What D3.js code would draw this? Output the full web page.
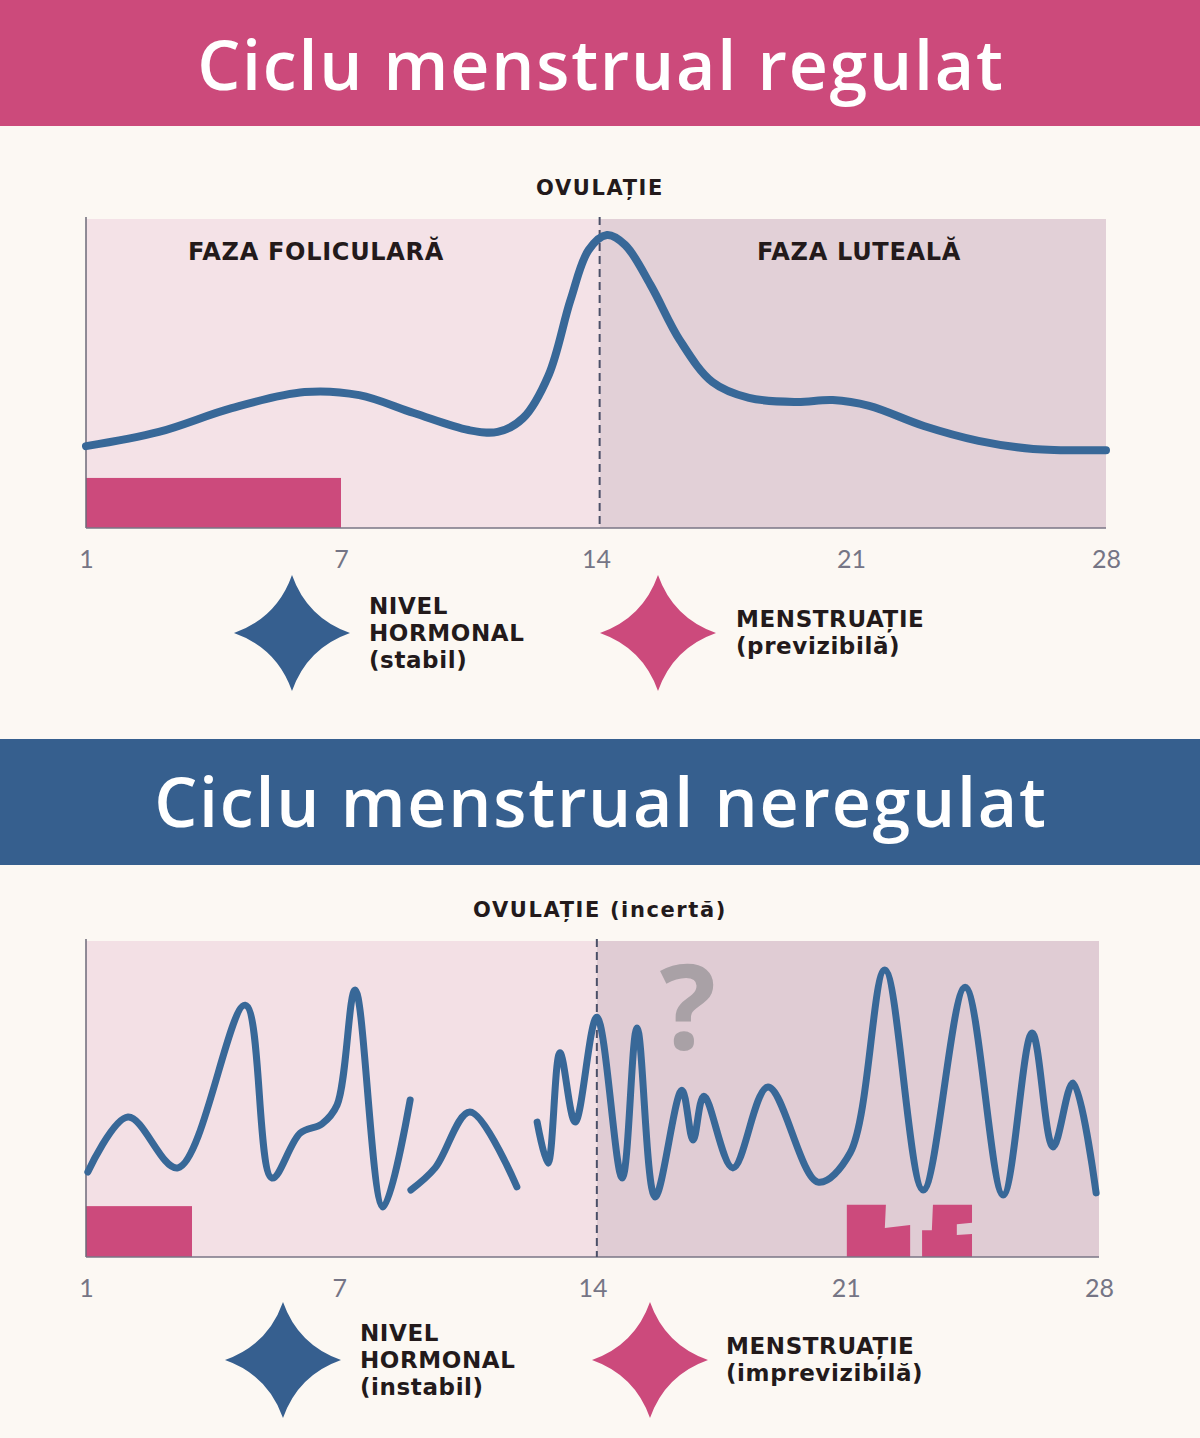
<!DOCTYPE html>
<html><head><meta charset="utf-8">
<script src="https://cdn.jsdelivr.net/npm/d3@7"></script>
<style>
html,body{margin:0;padding:0;background:#fcf8f3;}
svg{display:block;}
</style></head>
<body>
<svg id="c" width="1200" height="1438"></svg>
<script>
// ---------- DATA ----------
const tickDays = [0, 7, 14, 21, 28];
const tickLabels = ["1", "7", "14", "21", "28"];

const regularTitle = "Ciclu menstrual regulat";
const irregularTitle = "Ciclu menstrual neregulat";

const regularDays = [0,2,4,6,7.5,9,10.5,11.3,12,12.7,13.3,13.8,14.3,14.8,15.5,16.3,17.2,18.2,19.5,20.5,21.5,23,24.5,26,28];
const regularLevels = [26.5,31.1,38.8,44.0,43.0,37.2,31.7,31.1,35.6,49.5,73.8,90.0,94.8,91.6,78.6,60.8,47.2,42.1,40.8,41.4,39.5,33.0,28.2,25.6,25.2];
const regularOvulationDay = 14.1;
const regularMenses = [[0, 7, 16.2]]; // [startDay, endDay, height]

const irregSeg1Days = [0.05,1.16,2.54,4.40,5.14,5.92,6.52,6.94,7.44,8.21,8.96];
const irregSeg1Levels = [26.9,44.3,28.2,79.7,25.0,39.2,42.1,48.1,84.5,15.8,49.7];
const irregSeg2Days = [8.98,9.65,10.61,11.91];
const irregSeg2Levels = [21.2,28.2,45.9,22.2];
const irregSeg3Days = [12.47,12.77,13.10,13.52,14.12,14.82,15.23,15.73,16.47,16.78,17.08,17.88,18.85,20.23,21.12,22.08,23.14,24.30,25.35,26.15,26.73,27.28,27.92];
const irregSeg3Levels = [42.7,29.7,64.6,42.7,75.9,25.0,72.5,19.0,52.8,37.0,50.9,28.2,53.8,23.7,32.9,90.8,21.2,85.4,19.6,70.9,34.8,55.1,20.3];
const irregularOvulationDay = 14.12;
const irregularMensesBar = [[0, 2.93, 16.1]];
const irregularMensesBlocks = [
  [[21.03,16.5],[22.11,16.5],[22.08,9.2],[22.78,10.1],[22.78,0],[21.03,0]],
  [[23.41,16.5],[24.49,16.5],[24.49,10.8],[24.07,10.4],[24.07,7.0],[24.49,7.3],[24.49,0],[23.11,0],[23.11,8.5],[23.38,8.5]]
];

// ---------- STYLE ----------
const PINK = "#cc4a7c", BLUE = "#365f8f", LINE = "#386898", DARK = "#231a1b";
const TFONT = "'Open Sans', 'DejaVu Sans', sans-serif";
const LFONT = "'DejaVu Sans', 'Open Sans', sans-serif";

const svg = d3.select("#c");
svg.append("rect").attr("width",1200).attr("height",1438).attr("fill","#fcf8f3");

function banner(y0, h, color, text, ty){
  svg.append("rect").attr("x",0).attr("y",y0).attr("width",1200).attr("height",h).attr("fill",color);
  svg.append("text").attr("x",601).attr("y",ty).attr("text-anchor","middle")
    .attr("font-family",TFONT).attr("font-weight",600).attr("font-size",68)
    .attr("letter-spacing",1.8).attr("fill","#ffffff").text(text);
}

function star(cx, cy, r, color){
  const a = 0.26*r;
  const p = d3.path();
  p.moveTo(cx, cy-r);
  p.quadraticCurveTo(cx+a, cy-a, cx+r, cy);
  p.quadraticCurveTo(cx+a, cy+a, cx, cy+r);
  p.quadraticCurveTo(cx-a, cy+a, cx-r, cy);
  p.quadraticCurveTo(cx-a, cy-a, cx, cy-r);
  p.closePath();
  svg.append("path").attr("d", p.toString()).attr("fill", color);
}

function legendText(x, yFirst, lines){
  const t = svg.append("text").attr("font-family",LFONT).attr("font-weight",700)
    .attr("font-size",23).attr("letter-spacing",0.6).attr("fill",DARK);
  lines.forEach((l,i)=>{
    t.append("tspan").attr("x",x).attr("y",yFirst + i*27).text(l);
  });
}

function chart(cfg){
  const x = d3.scaleLinear().domain([0,28]).range([cfg.left, cfg.right]);
  const y = d3.scaleLinear().domain([0,100]).range([cfg.bottom, cfg.top]);
  const g = svg.append("g");
  // backgrounds
  g.append("rect").attr("x",x(0)).attr("y",y(100)).attr("width",x(cfg.ovu)-x(0))
    .attr("height",y(0)-y(100)).attr("fill",cfg.bgLeft);
  g.append("rect").attr("x",x(cfg.ovu)).attr("y",y(100)).attr("width",x(28)-x(cfg.ovu))
    .attr("height",y(0)-y(100)).attr("fill",cfg.bgRight);
  // menses bars
  cfg.bars.forEach(b=>{
    g.append("rect").attr("x",x(b[0])).attr("y",y(b[2])).attr("width",x(b[1])-x(b[0]))
      .attr("height",y(0)-y(b[2])).attr("fill",PINK);
  });
  (cfg.blocks||[]).forEach(poly=>{
    g.append("path").attr("d", d3.line().x(d=>x(d[0])).y(d=>y(d[1]))(poly)+"Z").attr("fill",PINK);
  });
  // axes
  g.append("line").attr("x1",x(0)).attr("x2",x(0)).attr("y1",y(100)-2).attr("y2",y(0))
    .attr("stroke","#6d6a78").attr("stroke-width",1.5);
  g.append("line").attr("x1",x(0)).attr("x2",x(28)).attr("y1",y(0)).attr("y2",y(0))
    .attr("stroke","#7a7686").attr("stroke-width",1.5);
  const ax = g.append("g").attr("transform",`translate(0,${y(0)})`)
    .call(d3.axisBottom(x).tickValues(tickDays).tickFormat((d,i)=>tickLabels[i]).tickSize(0).tickPadding(22));
  ax.select(".domain").remove();
  ax.selectAll("text").attr("font-family","Lato, 'Open Sans', sans-serif").attr("font-size",25)
    .attr("fill","#757585").attr("font-weight",400);
  // ovulation line
  g.append("line").attr("x1",x(cfg.ovu)).attr("x2",x(cfg.ovu)).attr("y1",y(100)-2).attr("y2",y(0))
    .attr("stroke","#4b5068").attr("stroke-width",2).attr("stroke-dasharray","8,5");
  // extra
  if (cfg.extra) cfg.extra(g, x, y);
  // hormone lines
  const line = d3.line().x(d=>x(d[0])).y(d=>y(d[1])).curve(cfg.curve);
  cfg.series.forEach(s=>{
    const pts = s[0].map((d,i)=>[d, s[1][i]]);
    g.append("path").attr("d", line(pts)).attr("fill","none").attr("stroke",LINE)
      .attr("stroke-width",cfg.sw).attr("stroke-linecap","round").attr("stroke-linejoin","round");
  });
  // labels
  g.append("text").attr("x",600).attr("y",cfg.top-24).attr("text-anchor","middle")
    .attr("font-family",LFONT).attr("font-weight",700).attr("font-size",21)
    .attr("letter-spacing",1.6).attr("fill",DARK).text(cfg.ovuLabel);
  (cfg.phaseLabels||[]).forEach(p=>{
    g.append("text").attr("x",p[0]).attr("y",p[1]).attr("text-anchor","middle")
      .attr("font-family",LFONT).attr("font-weight",700).attr("font-size",24)
      .attr("letter-spacing",0.7).attr("fill",DARK).text(p[2]);
  });
}

// ---------- TOP ----------
banner(0, 126, "#cc4a7b", regularTitle, 90);
chart({
  left:86, right:1106, top:219, bottom:528, ovu:regularOvulationDay,
  bgLeft:"#f4e2e7", bgRight:"#e2d0d7",
  bars: regularMenses,
  series: [[regularDays, regularLevels]],
  curve: d3.curveCatmullRom.alpha(0.5), sw: 8,
  ovuLabel: "OVULAȚIE",
  phaseLabels: [[316, 260, "FAZA FOLICULARĂ"], [859, 260, "FAZA LUTEALĂ"]]
});
star(292, 633, 58, BLUE);
star(658, 633, 58, PINK);
legendText(369, 614, ["NIVEL", "HORMONAL", "(stabil)"]);
legendText(736, 627, ["MENSTRUAȚIE", "(previzibilă)"]);

// ---------- BOTTOM ----------
banner(739, 126, "#365f8e", irregularTitle, 827);
chart({
  left:86, right:1099, top:941, bottom:1257, ovu:irregularOvulationDay,
  bgLeft:"#f3e0e5", bgRight:"#e0ccd4",
  bars: irregularMensesBar, blocks: irregularMensesBlocks,
  series: [[irregSeg1Days, irregSeg1Levels],[irregSeg2Days, irregSeg2Levels],[irregSeg3Days, irregSeg3Levels]],
  curve: d3.curveCatmullRom.alpha(0.5), sw: 7,
  ovuLabel: "OVULAȚIE (incertă)",
  extra: (g,x,y)=>{
    g.append("text").attr("x",688).attr("y",1049).attr("text-anchor","middle")
      .attr("font-family",TFONT).attr("font-weight",700).attr("font-size",118)
      .attr("fill","#a9a1a6").text("?");
  }
});
star(283, 1360, 58, BLUE);
star(650, 1360, 58, PINK);
legendText(360, 1341, ["NIVEL", "HORMONAL", "(instabil)"]);
legendText(726, 1354, ["MENSTRUAȚIE", "(imprevizibilă)"]);
</script>
</body></html>
